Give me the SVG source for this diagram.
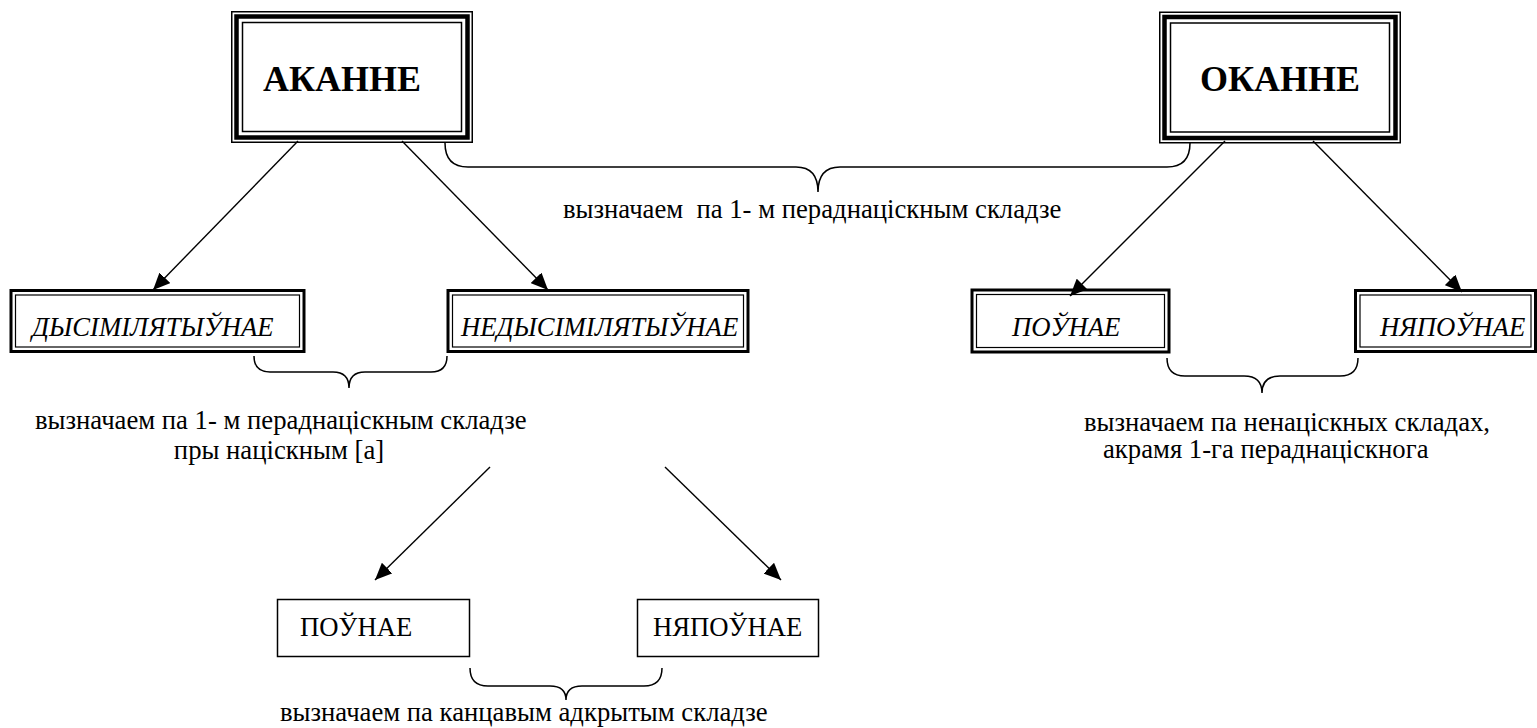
<svg xmlns="http://www.w3.org/2000/svg" width="1537" height="728" viewBox="0 0 1537 728">
<style>
text{font-family:"Liberation Serif","Times New Roman","DejaVu Serif",serif;fill:#000}
.title{font-size:36px;font-weight:bold}
.it{font-size:26.7px;font-style:italic}
.lbl{font-size:26.7px}
.thin{fill:none;stroke:#000;stroke-width:1.5}
.thick{fill:none;stroke:#000;stroke-width:4.5}
.dbl{fill:none;stroke:#000;stroke-width:3}
.dbl2{fill:none;stroke:#000;stroke-width:1.2}
.box{fill:#fff;stroke:#000;stroke-width:1.5}
.con{fill:none;stroke:#000;stroke-width:1.4}
.brace{fill:none;stroke:#000;stroke-width:1.5}
</style>
<defs>
<marker id="ah" markerUnits="userSpaceOnUse" markerWidth="19" markerHeight="15" refX="17" refY="7.5" orient="auto">
<path d="M0,0 L17,7.5 L0,15 Z" fill="#000"/>
</marker>
</defs>
<rect width="1537" height="728" fill="#fff"/>

<g id="connectors">
<line class="con" x1="298" y1="141" x2="153" y2="290" marker-end="url(#ah)"/>
<line class="con" x1="402" y1="141" x2="548" y2="290" marker-end="url(#ah)"/>
<line class="con" x1="1225" y1="141" x2="1070" y2="296" marker-end="url(#ah)"/>
<line class="con" x1="1313" y1="141" x2="1462" y2="292" marker-end="url(#ah)"/>
<line class="con" x1="490" y1="467" x2="375" y2="580" marker-end="url(#ah)"/>
<line class="con" x1="665" y1="467" x2="781" y2="580" marker-end="url(#ah)"/>
<path class="brace" d="M445,143 Q445,167 468,167 L796,167 Q818,167 818,192 Q818,167 840,167 L1167,167 Q1190,167 1190,143"/>
<path class="brace" d="M254,356 Q254,372 270,372 L333,372 Q349,372 349,388 Q349,372 365,372 L431,372 Q447,372 447,356"/>
<path class="brace" d="M1167,358 Q1167,376 1185,376 L1244,376 Q1262,376 1262,393 Q1262,376 1280,376 L1340,376 Q1358,376 1358,358"/>
<path class="brace" d="M470,668 Q470,686 488,686 L550,686 Q566,686 566,700 Q566,686 582,686 L644,686 Q662,686 662,668"/>
</g>

<g id="node-akanne">
<rect class="thin" x="231.75" y="11.75" width="240.5" height="130.5"/>
<rect class="thick" x="236.5" y="16.5" width="231" height="121"/>
<rect class="thin" x="242.5" y="22.5" width="219" height="109"/>
<text class="title" x="263" y="91">АКАННЕ</text>
</g>

<g id="node-okanne">
<rect class="thin" x="1159.75" y="12.25" width="240.5" height="130.5"/>
<rect class="thick" x="1164.5" y="17" width="231" height="121"/>
<rect class="thin" x="1170.5" y="23" width="219" height="109"/>
<text class="title" x="1200" y="91">ОКАННЕ</text>
</g>

<g id="node-dysim">
<rect class="dbl" x="11" y="290.5" width="293" height="61"/>
<rect class="dbl2" x="15.5" y="295" width="284" height="52"/>
<text class="it" x="32" y="336">ДЫСІМІЛЯТЫЎНАЕ</text>
</g>

<g id="node-nedysim">
<rect class="dbl" x="448" y="290.5" width="300" height="61"/>
<rect class="dbl2" x="452.5" y="295" width="291" height="52"/>
<text class="it" x="461" y="336">НЕДЫСІМІЛЯТЫЎНАЕ</text>
</g>

<g id="node-pounae-it">
<rect class="dbl" x="972" y="290" width="197" height="62"/>
<rect class="dbl2" x="976.5" y="294.5" width="188" height="53"/>
<text class="it" x="1012" y="336">ПОЎНАЕ</text>
</g>

<g id="node-njapounae-it">
<rect class="dbl" x="1355.5" y="290.5" width="180" height="61"/>
<rect class="dbl2" x="1360" y="295" width="171" height="52"/>
<text class="it" x="1380" y="336">НЯПОЎНАЕ</text>
</g>

<g id="node-pounae">
<rect class="box" x="277.5" y="599.5" width="192" height="57"/>
<text class="lbl" x="300" y="636">ПОЎНАЕ</text>
</g>

<g id="node-njapounae">
<rect class="box" x="637.5" y="599.5" width="181" height="57"/>
<text class="lbl" x="653" y="636">НЯПОЎНАЕ</text>
</g>

<g id="labels">
<text class="lbl" x="563" y="218" xml:space="preserve">вызначаем  па 1- м пераднаціскным складзе</text>
<text class="lbl" x="35" y="429">вызначаем па 1- м пераднаціскным складзе</text>
<text class="lbl" x="279" y="459" text-anchor="middle">пры націскным [а]</text>
<text class="lbl" x="1084" y="431">вызначаем па ненаціскных складах,</text>
<text class="lbl" x="1103" y="458">акрамя 1-га пераднаціскнога</text>
<text class="lbl" x="280" y="721">вызначаем па канцавым адкрытым складзе</text>
</g>
</svg>
